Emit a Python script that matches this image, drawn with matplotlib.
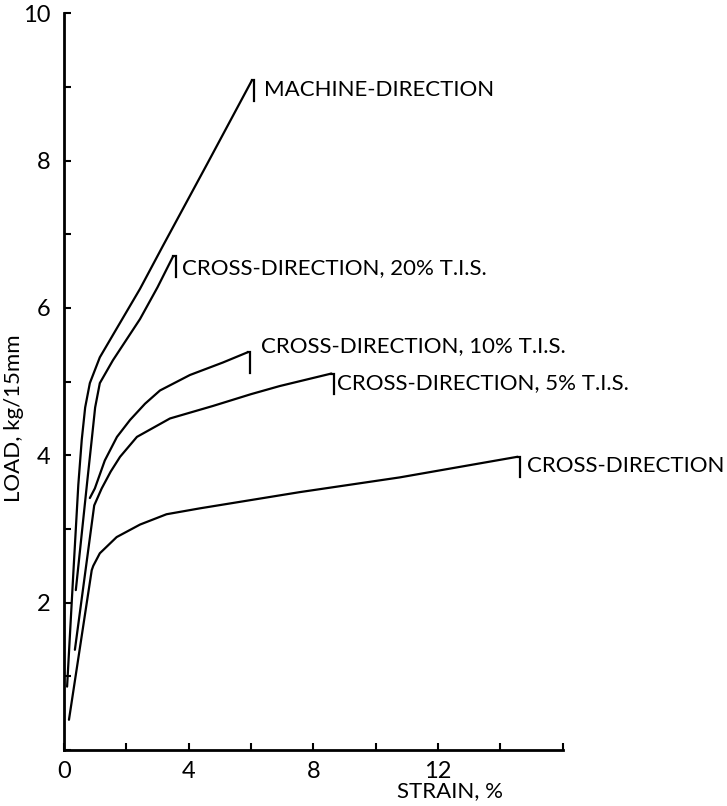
import matplotlib
matplotlib.use("Agg")
import matplotlib.pyplot as plt

plt.rcParams['font.family'] = ['Lato', 'DejaVu Sans']

# strain (%) and load (kg/15mm)
md_strain = [0.1, 0.3, 0.46, 0.57, 0.68, 0.83, 1.15, 1.69, 2.44, 3.17, 4.6, 6.03]
md_load = [0.86, 2.4, 3.6, 4.21, 4.65, 4.98, 5.33, 5.72, 6.26, 6.84, 7.96, 9.09]

cd20_strain = [0.38, 0.75, 0.89, 1.0, 1.15, 1.57, 2.44, 3.0, 3.5]
cd20_load = [2.17, 3.66, 4.21, 4.65, 4.98, 5.29, 5.85, 6.28, 6.7]

cd10_strain = [0.83, 0.99, 1.31, 1.7, 2.12, 2.6, 3.08, 4.04, 5.1, 5.9]
cd10_load = [3.42, 3.55, 3.93, 4.25, 4.48, 4.7, 4.88, 5.09, 5.26, 5.4]

cd5_strain = [0.35, 0.97, 1.21, 1.5, 1.8, 2.34, 3.4, 4.78, 6.0, 6.92, 8.58]
cd5_load = [1.36, 3.32, 3.55, 3.78, 3.98, 4.25, 4.5, 4.67, 4.83, 4.94, 5.11]

cd_strain = [0.16, 0.89, 0.94, 1.15, 1.69, 2.44, 3.29, 4.36, 7.56, 10.77, 14.55]
cd_load = [0.41, 2.44, 2.5, 2.67, 2.89, 3.06, 3.2, 3.28, 3.5, 3.7, 3.98]

curves = [
    (md_strain, md_load, "MACHINE-DIRECTION", (6.42, 8.96)),
    (cd20_strain, cd20_load, "CROSS-DIRECTION, 20% T.I.S.", (3.8, 6.54)),
    (cd10_strain, cd10_load, "CROSS-DIRECTION, 10% T.I.S.", (6.32, 5.48)),
    (cd5_strain, cd5_load, "CROSS-DIRECTION, 5% T.I.S.", (8.76, 4.98)),
    (cd_strain, cd_load, "CROSS-DIRECTION", (14.85, 3.85)),
]

fig = plt.figure(figsize=(7.27, 8.06), dpi=100)
ax = fig.add_axes([0.088, 0.0695, 0.686, 0.914])

for xs, ys, name, pos in curves:
    ax.plot(xs, ys, color='black', lw=1.6, solid_capstyle='round')
    # short jog and drop line marking the break point
    xe, ye = xs[-1], ys[-1]
    ax.plot([xe, xe + 0.08, xe + 0.08], [ye, ye, ye - 0.28], color='black', lw=1.6,
            solid_joinstyle='miter')
    ax.text(pos[0], pos[1], name, fontsize=16, va='center', ha='left')

ax.set_xlim(0, 16)
ax.set_ylim(0, 10)
ax.spines['top'].set_visible(False)
ax.spines['right'].set_visible(False)
ax.spines['left'].set_linewidth(2)
ax.spines['bottom'].set_linewidth(2)

ax.set_xticks(range(0, 17, 2))
ax.set_xticklabels(['0', '', '4', '', '8', '', '12', '', ''])
ax.set_yticks(range(0, 11))
ax.set_yticklabels(['', '', '2', '', '4', '', '6', '', '8', '', '10'])
ax.tick_params(direction='in', length=5, width=1.5, labelsize=17)
ax.tick_params(axis='x', pad=8)
ax.tick_params(axis='y', pad=10)

ax.set_xlabel("STRAIN, %", fontsize=16)
ax.xaxis.set_label_coords(0.775, -0.042)
ax.set_ylabel("LOAD, kg/15mm", fontsize=16)
ax.yaxis.set_label_coords(-0.08, 0.45)

fig.savefig("out.png", dpi=100)
